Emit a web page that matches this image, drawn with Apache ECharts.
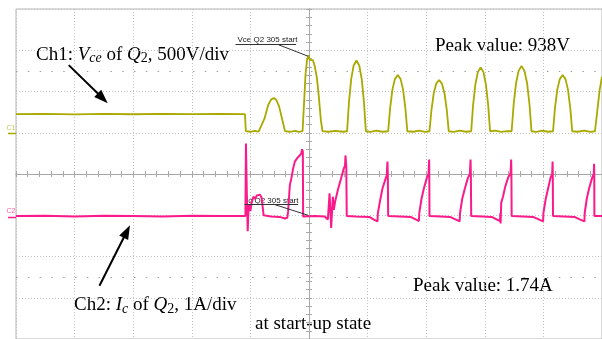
<!DOCTYPE html>
<html>
<head>
<meta charset="utf-8">
<script src="https://cdn.jsdelivr.net/npm/echarts@6/dist/echarts.min.js"></script>
<style>
  html, body { margin: 0; padding: 0; background: #fff; }
  #chart { width: 602px; height: 339px; }
</style>
</head>
<body>
<div id="chart"></div>
<script>
// time in divisions from the trigger point (screen centre), 10 div across
// Ch1: Vce of Q2 in volts (500 V/div), Ch2: Ic of Q2 in amps (1 A/div)
const ch1Vce = [
  [-5.0, 226], [-4.5, 229], [-4.0, 223], [-3.5, 228], [-3.0, 224], [-2.5, 229], [-2.0, 225], [-1.5, 228], [-1.093, 226],
  [-1.078, 20], [-1.0, 12], [-0.93, 24], [-0.86, 14],
  [-0.83, 18], [-0.76, 170], [-0.695, 340], [-0.644, 405], [-0.60, 420], [-0.56, 400], [-0.51, 320], [-0.46, 170], [-0.41, 20],
  [-0.33, 12], [-0.24, 24], [-0.17, 12],
  [-0.11, 20], [-0.085, 350], [-0.06, 700], [-0.034, 880], [-0.008, 938], [0.017, 880], [0.042, 900], [0.068, 880],
  [0.10, 800], [0.136, 660], [0.17, 420], [0.203, 150], [0.23, 20],
  [0.33, 12], [0.45, 24], [0.58, 12],
  [0.65, 18], [0.682, 370], [0.72, 650], [0.762, 815], [0.81, 876], [0.858, 815], [0.90, 650], [0.938, 370], [0.97, 18],
  [1.05, 10], [1.15, 25], [1.25, 12],
  [1.351, 18], [1.384, 295], [1.423, 520], [1.465, 650], [1.515, 700], [1.564, 650], [1.606, 520], [1.645, 295], [1.678, 18],
  [1.78, 12], [1.88, 25], [1.98, 10],
  [2.056, 18], [2.089, 270], [2.128, 475], [2.171, 595], [2.22, 640], [2.269, 595], [2.313, 475], [2.352, 270], [2.385, 18],
  [2.47, 10], [2.57, 25], [2.68, 12],
  [2.768, 18], [2.80, 335], [2.839, 585], [2.881, 735], [2.929, 792], [2.977, 735], [3.019, 585], [3.058, 335], [3.09, 18],
  [3.18, 25], [3.28, 10], [3.38, 20],
  [3.458, 18], [3.492, 340], [3.533, 600], [3.577, 750], [3.627, 808], [3.677, 750], [3.722, 600], [3.763, 340], [3.797, 18],
  [3.88, 10], [3.98, 25], [4.08, 12],
  [4.164, 18], [4.197, 295], [4.236, 520], [4.279, 650], [4.328, 700], [4.377, 650], [4.42, 520], [4.459, 295], [4.492, 18],
  [4.58, 12], [4.70, 25], [4.80, 10],
  [4.88, 18], [4.93, 330], [4.96, 520], [5.0, 680]
];

const ch2Ic = [
  [-5.0, -0.02], [-4.5, -0.01], [-4.0, -0.03], [-3.5, -0.01], [-3.0, -0.02], [-2.5, -0.03], [-2.0, -0.01], [-1.5, -0.02], [-1.085, -0.02],
  [-1.076, 1.74], [-1.062, 0.6], [-1.046, -0.39], [-1.034, 0.1], [-1.022, 0.25], [-1.0, 0.1], [-0.98, 0.3], [-0.949, 0.45],
  [-0.92, 0.4], [-0.89, 0.48], [-0.864, 0.45], [-0.836, 0.5], [-0.808, 0.42], [-0.785, 0.4], [-0.775, 0.0],
  [-0.65, -0.03], [-0.5, -0.04], [-0.41, -0.08], [-0.37, -0.06],
  [-0.356, 0.1], [-0.327, 0.73], [-0.3, 0.9], [-0.271, 1.13], [-0.242, 1.3], [-0.198, 1.39], [-0.158, 1.45], [-0.13, 1.5],
  [-0.119, 1.6], [-0.105, 1.55], [-0.1, -0.03],
  [0.1, -0.02], [0.266, -0.03], [0.322, -0.1],
  [0.351, 0.53], [0.378, -0.31], [0.407, 0.45], [0.424, 0.13], [0.446, 0.33], [0.492, 0.61], [0.547, 0.89], [0.593, 1.13],
  [0.615, 1.2], [0.622, 1.45], [0.636, 1.2], [0.644, -0.02],
  [0.8, -0.03], [1.029, -0.04], [1.1, -0.1], [1.169, -0.15],
  [1.175, 0.05], [1.215, 0.37], [1.254, 0.65], [1.31, 0.9], [1.327, 0.97], [1.339, 1.3], [1.345, 1.0], [1.351, -0.02],
  [1.55, -0.03], [1.734, -0.04], [1.82, -0.1], [1.876, -0.14],
  [1.882, 0.05], [1.92, 0.4], [1.96, 0.65], [2.01, 0.9], [2.04, 1.0], [2.05, 1.35], [2.053, 1.0], [2.056, -0.02],
  [2.25, -0.03], [2.407, -0.04], [2.5, -0.1], [2.571, -0.15],
  [2.577, 0.05], [2.615, 0.4], [2.66, 0.65], [2.71, 0.9], [2.745, 1.0], [2.757, 1.35], [2.762, 1.0], [2.768, -0.02],
  [2.95, -0.03], [3.119, -0.04], [3.2, -0.1], [3.259, -0.14],
  [3.265, 0.05], [3.27, -0.2], [3.28, 0.3], [3.31, 0.45], [3.35, 0.7], [3.40, 0.92], [3.44, 1.02], [3.45, 1.35], [3.454, 1.0], [3.458, -0.02],
  [3.65, -0.03], [3.825, -0.04], [3.92, -0.1], [3.995, -0.15],
  [4.0, 0.05], [4.04, 0.4], [4.08, 0.65], [4.12, 0.9], [4.15, 1.0], [4.157, 1.3], [4.16, 1.0], [4.164, -0.02],
  [4.35, -0.03], [4.53, -0.04], [4.62, -0.1], [4.70, -0.15],
  [4.705, 0.05], [4.74, 0.4], [4.78, 0.65], [4.83, 0.9], [4.86, 1.0], [4.865, 1.25], [4.868, 1.0], [4.87, -0.02], [5.0, -0.02]
];

// annotation anchors, in data units (arrow end = centre of its head)
const ch1Arrow = [[-4.10, 820], [-3.52, 418]];
const ch2Arrow = [[-3.576, -1.71], [-3.109, -0.393]];
const vceCursorUnderline = [[-1.254, 1075], [-0.22, 1075]];
const vceCursorLeader = [[-0.525, 1068], [-0.017, 928]];
const icCursorUnderline = [[-1.10, 0.276], [-0.186, 0.276]];
const icCursorLeader = [[-0.61, 0.27], [-0.017, 0.0]];
const dotRowsV = [750, -1750]; // rows of dots at +/-2.5 div

const SERIF = '"Liberation Serif", "Times New Roman", serif';
const SANS = '"Liberation Sans", Arial, sans-serif';
const C1_COLOR = '#a9a900';
const C2_COLOR = '#fa1a8a';
const GRID_COLOR = '#c2c2c2';
const AXIS_COLOR = '#a8a8a8';

const richSerif = {
  n: { fontSize: 19, fontFamily: SERIF, lineHeight: 22 },
  i: { fontSize: 19, fontFamily: SERIF, fontStyle: 'italic', lineHeight: 22 },
  si: { fontSize: 14, fontFamily: SERIF, fontStyle: 'italic', lineHeight: 14, verticalAlign: 'bottom' },
  s: { fontSize: 14, fontFamily: SERIF, lineHeight: 14, verticalAlign: 'bottom' }
};

const chart = echarts.init(document.getElementById('chart'));

const centreAxisX = (inside) => ({
  type: 'value', min: -5, max: 5, interval: 1, position: 'bottom',
  axisLine: { onZero: true, onZeroAxisIndex: 2, lineStyle: { color: AXIS_COLOR, width: 1 } },
  axisTick: { show: true, inside, length: 3, lineStyle: { color: AXIS_COLOR } },
  minorTick: { show: true, splitNumber: 5, length: 3, lineStyle: { color: AXIS_COLOR } },
  axisLabel: { show: false },
  splitLine: { show: !inside, lineStyle: { color: GRID_COLOR, type: [1, 2] } }
});

const line = (pts, style, endSymbol) => [
  { coord: pts[0], symbol: 'none', lineStyle: style },
  { coord: pts[1], symbol: endSymbol || 'none' }
];

const option = {
  animation: false,
  backgroundColor: '#fff',
  grid: { left: 16, top: 9, width: 590, height: 333, show: true, borderColor: '#b4b4b4', borderWidth: 1 },
  xAxis: [centreAxisX(false), centreAxisX(true)],
  yAxis: [
    {
      type: 'value', min: -2500, max: 1500, interval: 500, position: 'left',
      axisLine: { onZero: true, onZeroAxisIndex: 0, lineStyle: { color: AXIS_COLOR } },
      axisTick: { show: true, length: 3, lineStyle: { color: AXIS_COLOR } },
      minorTick: { show: true, splitNumber: 5, length: 3, lineStyle: { color: AXIS_COLOR } },
      axisLabel: { show: false },
      splitLine: { show: true, lineStyle: { color: GRID_COLOR, type: [1, 2] } }
    },
    { type: 'value', min: -3, max: 5, interval: 1, show: false },
    {
      type: 'value', min: -4, max: 4, interval: 1, position: 'left',
      axisLine: { onZero: true, onZeroAxisIndex: 0, lineStyle: { color: AXIS_COLOR } },
      axisTick: { show: true, inside: true, length: 3, lineStyle: { color: AXIS_COLOR } },
      minorTick: { show: true, splitNumber: 5, length: 3, lineStyle: { color: AXIS_COLOR } },
      axisLabel: { show: false },
      splitLine: { show: false }
    }
  ],
  series: [
    {
      name: 'Ch1', type: 'line', xAxisIndex: 0, yAxisIndex: 0,
      data: ch1Vce, showSymbol: false, symbol: 'none',
      lineStyle: { color: C1_COLOR, width: 1.8 },
      markLine: {
        silent: true, animation: false, label: { show: false },
        symbol: ['none', 'none'],
        data: [
          ...dotRowsV.map(v => ({ yAxis: v, symbol: 'none', lineStyle: { color: '#a0a0a0', type: [1.5, 10.3], width: 1.2 } })),
          line(ch1Arrow, { color: '#000', width: 2, type: 'solid' }, 'triangle'),
          line(vceCursorUnderline, { color: '#333', width: 1, type: 'solid' }),
          line(vceCursorLeader, { color: '#333', width: 1, type: 'solid' })
        ],
        symbolSize: [10, 14]
      }
    },
    {
      name: 'Ch2', type: 'line', xAxisIndex: 0, yAxisIndex: 1,
      data: ch2Ic, showSymbol: false, symbol: 'none',
      lineStyle: { color: C2_COLOR, width: 2 },
      markLine: {
        silent: true, animation: false, label: { show: false },
        symbol: ['none', 'none'],
        data: [
          line(ch2Arrow, { color: '#000', width: 2, type: 'solid' }, 'triangle'),
          line(icCursorUnderline, { color: '#333', width: 1, type: 'solid' }),
          line(icCursorLeader, { color: '#333', width: 1, type: 'solid' })
        ],
        symbolSize: [10, 14]
      }
    }
  ],
  graphic: [
    { type: 'text', x: 36, y: 54.6, style: { text: '{n|Ch1: }{i|V}{si|ce}{n| of }{i|Q}{s|2}{n|, 500V/div}', rich: richSerif, fill: '#000', verticalAlign: 'middle', textVerticalAlign: 'middle' } },
    { type: 'text', x: 74, y: 305.3, style: { text: '{n|Ch2: }{i|I}{si|c}{n| of }{i|Q}{s|2}{n|, 1A/div}', rich: richSerif, fill: '#000', verticalAlign: 'middle', textVerticalAlign: 'middle' } },
    { type: 'text', x: 435, y: 45.9, style: { text: 'Peak value: 938V', font: '19px ' + SERIF, fill: '#000', verticalAlign: 'middle', textVerticalAlign: 'middle' } },
    { type: 'text', x: 413, y: 286.3, style: { text: 'Peak value: 1.74A', font: '19px ' + SERIF, fill: '#000', verticalAlign: 'middle', textVerticalAlign: 'middle' } },
    { type: 'text', x: 255, y: 323.6, style: { text: 'at start-up state', font: '19px ' + SERIF, fill: '#000', verticalAlign: 'middle', textVerticalAlign: 'middle' } },
    { type: 'text', x: 237.5, y: 40.2, style: { text: 'Vce Q2 305 start', font: '8px ' + SANS, fill: '#222', verticalAlign: 'middle', textVerticalAlign: 'middle' } },
    { type: 'text', x: 246, y: 201.2, style: { text: 'Ic Q2 305 start', font: '8px ' + SANS, fill: '#222', verticalAlign: 'middle', textVerticalAlign: 'middle' } },
    { type: 'text', x: 6.5, y: 128, style: { text: 'C1', font: '7px ' + SANS, fill: '#c4c45a', verticalAlign: 'middle', textVerticalAlign: 'middle' } },
    { type: 'line', shape: { x1: 8, y1: 133.5, x2: 16, y2: 133.5 }, style: { stroke: C1_COLOR, lineWidth: 1.5 } },
    { type: 'text', x: 6.5, y: 211.5, style: { text: 'C2', font: '7px ' + SANS, fill: '#ff5aa8', verticalAlign: 'middle', textVerticalAlign: 'middle' } },
    { type: 'line', shape: { x1: 8, y1: 217.5, x2: 16, y2: 217.5 }, style: { stroke: C2_COLOR, lineWidth: 1.5 } }
  ]
};

chart.setOption(option);
</script>
</body>
</html>
